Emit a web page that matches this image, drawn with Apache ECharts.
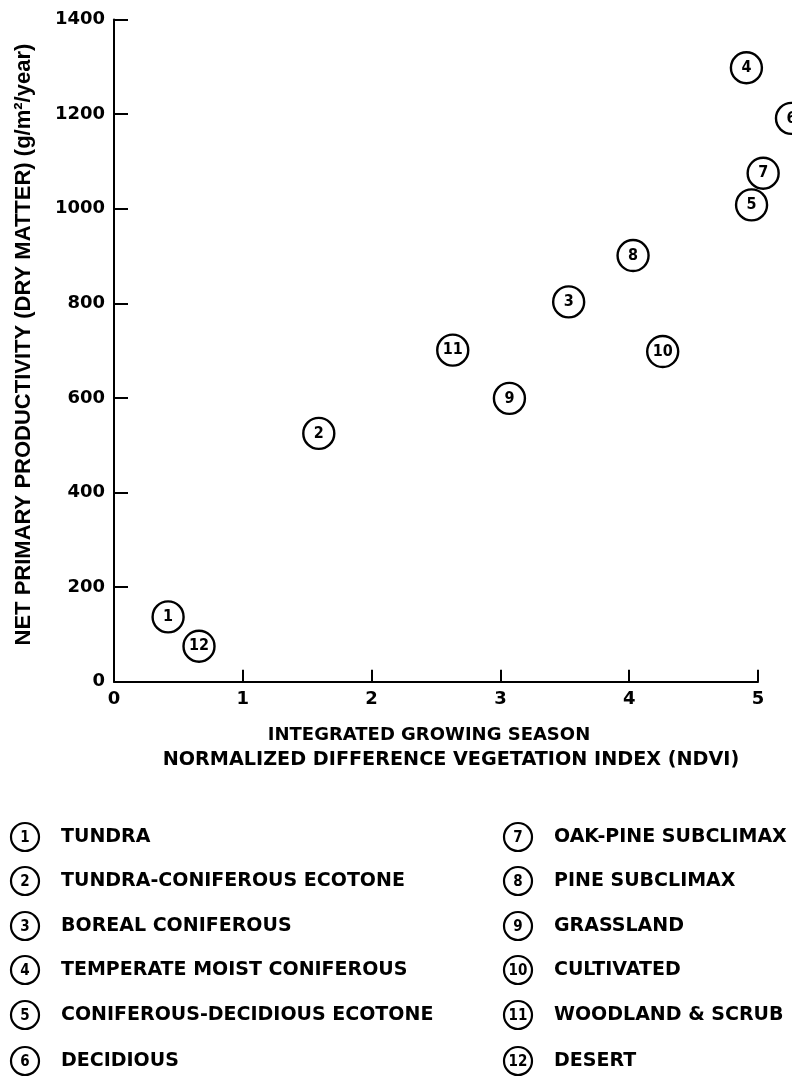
<!DOCTYPE html>
<html>
<head>
<meta charset="utf-8">
<script src="https://cdn.jsdelivr.net/npm/echarts@6/dist/echarts.min.js"></script>
<style>
html,body{margin:0;padding:0;background:#fff;}
#chart{width:792px;height:1079px;}
</style>
</head>
<body>
<div id="chart"></div>
<script>
// Data
const biomeIds = ['1','2','3','4','5','6','7','8','9','10','11','12'];
const biomeNames = [
  'TUNDRA',
  'TUNDRA-CONIFEROUS ECOTONE',
  'BOREAL CONIFEROUS',
  'TEMPERATE MOIST CONIFEROUS',
  'CONIFEROUS-DECIDIOUS ECOTONE',
  'DECIDIOUS',
  'OAK-PINE SUBCLIMAX',
  'PINE SUBCLIMAX',
  'GRASSLAND',
  'CULTIVATED',
  'WOODLAND & SCRUB',
  'DESERT'
];
const ndvi = [0.42, 1.59, 3.53, 4.91, 4.95, 5.26, 5.04, 4.03, 3.07, 4.26, 2.63, 0.66];
const npp  = [137, 525, 803, 1298, 1008, 1191, 1075, 901, 599, 698, 701, 75];
const xTitleLine1 = 'INTEGRATED GROWING SEASON';
const xTitleLine2 = 'NORMALIZED DIFFERENCE VEGETATION INDEX (NDVI)';
const yAxisTitle = 'NET PRIMARY PRODUCTIVITY (DRY MATTER) (g/m\u00B2/year)';

const FONT = 'DejaVu Sans';
const TFONT = 'Liberation Sans';
const NUMFONT = 'DejaVu Sans Condensed';

const points = ndvi.map((x, i) => ({ value: [x, npp[i]], name: biomeIds[i] }));

// Legend built from the name arrays (two columns of six)
const legendGraphics = [];
const colX = [25, 518];
const rowY = [837, 881, 926, 970, 1015, 1061];
biomeNames.forEach((nm, i) => {
  const col = i < 6 ? 0 : 1;
  const row = i % 6;
  const cx = colX[col], cy = rowY[row];
  legendGraphics.push({
    type: 'circle', shape: { cx: cx, cy: cy, r: 14 },
    style: { fill: 'none', stroke: '#000', lineWidth: 2.2 }
  });
  legendGraphics.push({
    type: 'text', x: cx, y: cy + 1,
    style: { text: biomeIds[i], fill: '#000', font: 'bold 15px "' + NUMFONT + '"', textAlign: 'center', textVerticalAlign: 'middle' }
  });
  legendGraphics.push({
    type: 'text', x: cx + 36, y: cy,
    style: { text: nm, fill: '#000', font: 'bold 19px "' + FONT + '"', textAlign: 'left', textVerticalAlign: 'middle' }
  });
});

const chart = echarts.init(document.getElementById('chart'), null, { renderer: 'canvas' });
chart.setOption({
  backgroundColor: '#fff',
  animation: false,
  grid: { left: 114, right: 34, top: 19.5, bottom: 397.3, containLabel: false },
  xAxis: {
    type: 'value', min: 0, max: 5, interval: 1,
    name: '{a|' + xTitleLine1 + '}\n{b|' + xTitleLine2 + '}',
    nameLocation: 'middle', nameGap: 42,
    nameTextStyle: {
      color: '#000', verticalAlign: 'top', padding: [0, 0, 0, 30],
      rich: {
        a: { fontFamily: FONT, fontWeight: 'bold', fontSize: 18, lineHeight: 24, color: '#000', padding: [0, 44, 0, 0] },
        b: { fontFamily: FONT, fontWeight: 'bold', fontSize: 19.2, lineHeight: 24, color: '#000' }
      }
    },
    axisLine: { show: true, lineStyle: { color: '#000', width: 2 } },
    axisTick: { show: true, inside: true, length: 12, lineStyle: { color: '#000', width: 2 } },
    axisLabel: { fontFamily: FONT, fontWeight: 'bold', fontSize: 18, color: '#000', margin: 9, formatter: v => String(v) },
    splitLine: { show: false }
  },
  yAxis: {
    type: 'value', min: 0, max: 1400, interval: 200,
    name: yAxisTitle, nameLocation: 'middle', nameRotate: 90, nameGap: 79,
    nameTextStyle: { fontFamily: TFONT, fontWeight: 'bold', fontSize: 22, color: '#000', padding: [0, 0, 0, 12] },
    axisLine: { show: true, lineStyle: { color: '#000', width: 2 } },
    axisTick: { show: true, inside: true, length: 14, lineStyle: { color: '#000', width: 2 } },
    axisLabel: { fontFamily: FONT, fontWeight: 'bold', fontSize: 18, color: '#000', margin: 9, formatter: v => String(v) },
    splitLine: { show: false }
  },
  series: [{
    type: 'scatter',
    data: points,
    clip: false,
    symbol: 'circle',
    symbolSize: 31,
    itemStyle: { color: '#fff', borderColor: '#000', borderWidth: 2.4, opacity: 1 },
    label: {
      show: true, position: 'inside', formatter: p => p.name,
      fontFamily: NUMFONT, fontWeight: 'bold', fontSize: 16, color: '#000'
    },
    emphasis: { disabled: true }
  }],
  graphic: legendGraphics
});
</script>
</body>
</html>
